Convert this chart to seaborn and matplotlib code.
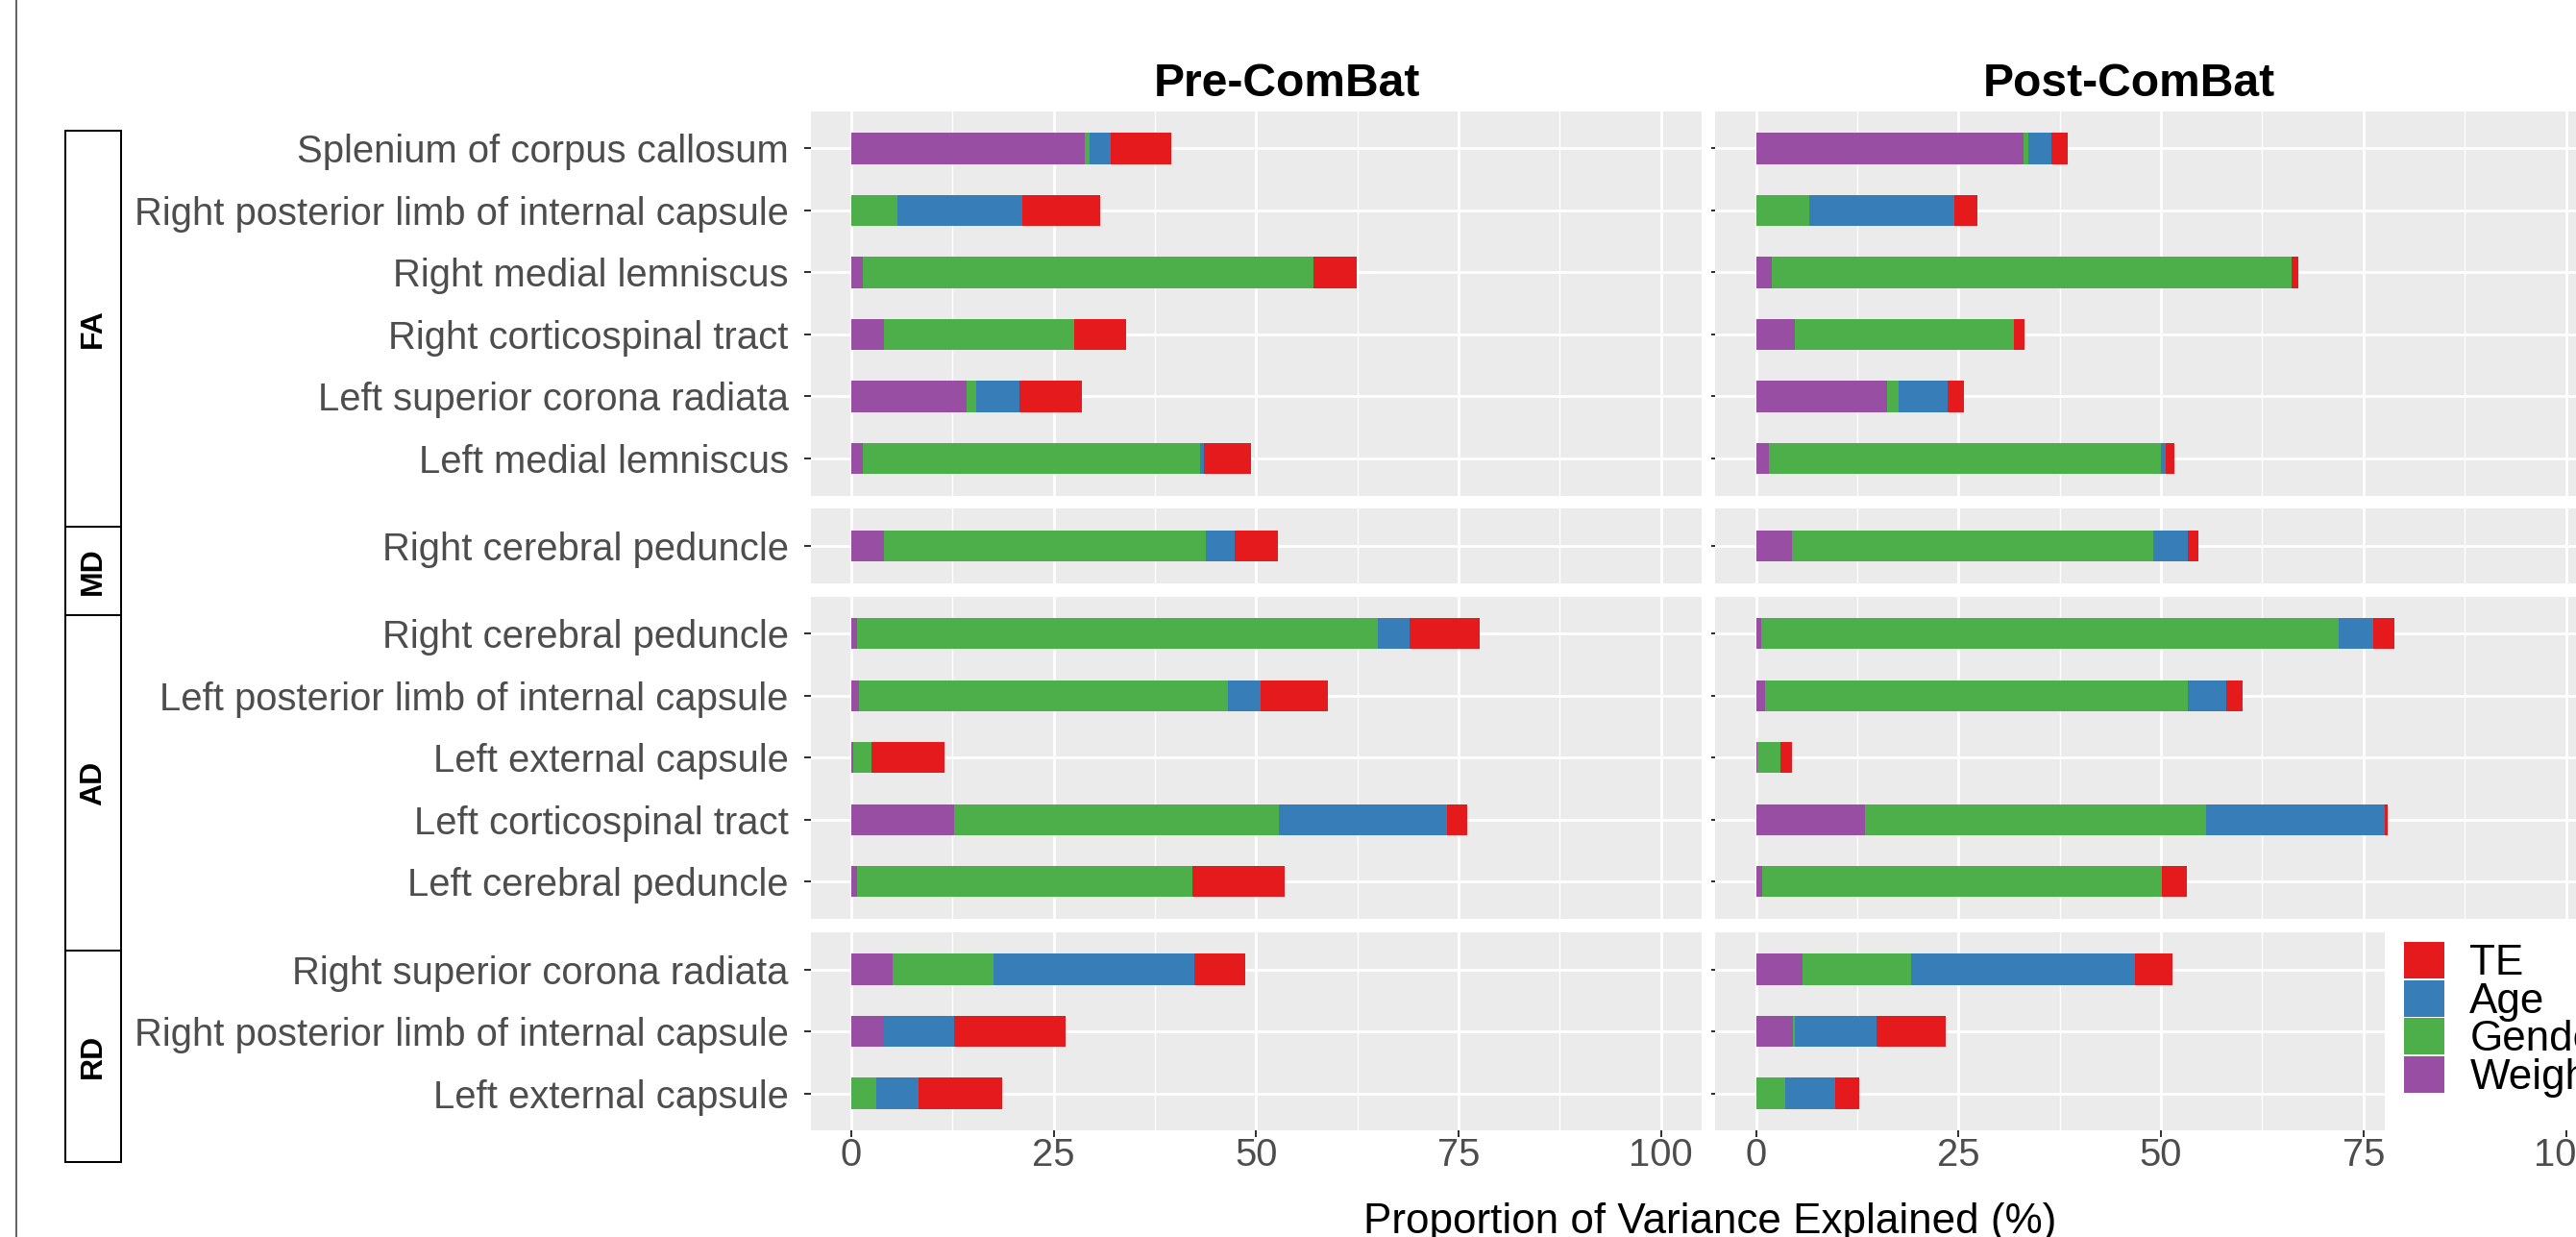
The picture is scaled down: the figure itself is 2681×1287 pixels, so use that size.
import matplotlib
matplotlib.use("Agg")
import pandas as pd
import seaborn as sns
import matplotlib.pyplot as plt
from matplotlib.patches import Patch, Rectangle
from matplotlib.lines import Line2D

# Regions of interest, grouped by diffusion measure (top to bottom)
fa_regions = ["Splenium of corpus callosum",
              "Right posterior limb of internal capsule",
              "Right medial lemniscus",
              "Right corticospinal tract",
              "Left superior corona radiata",
              "Left medial lemniscus"]
md_regions = ["Right cerebral peduncle"]
ad_regions = ["Right cerebral peduncle",
              "Left posterior limb of internal capsule",
              "Left external capsule",
              "Left corticospinal tract",
              "Left cerebral peduncle"]
rd_regions = ["Right superior corona radiata",
              "Right posterior limb of internal capsule",
              "Left external capsule"]

measures = ["FA", "MD", "AD", "RD"]
conditions = ["Pre-ComBat", "Post-ComBat"]
factors = ["Weight", "Gender", "Age", "TE"]          # stacking order, left to right
legend_order = ["TE", "Age", "Gender", "Weight"]
factor_colors = {"TE": "#E41A1C", "Age": "#377EB8",
                 "Gender": "#4DAF4A", "Weight": "#984EA3"}

# Proportion of variance explained (%), rows ordered FA, MD, AD, RD
pre_weight = [28.9, 0.0, 1.4, 4.1, 14.2, 1.4, 4.1, 0.7, 1.0, 0.3, 12.7, 0.7, 5.1, 4.0, 0.0]
pre_gender = [0.5, 5.7, 55.7, 23.4, 1.2, 41.7, 39.7, 64.3, 45.5, 2.2, 40.1, 41.4, 12.5, 0.0, 3.1]
pre_age    = [2.7, 15.4, 0.0, 0.0, 5.4, 0.5, 3.5, 3.9, 4.0, 0.0, 20.8, 0.0, 24.8, 8.7, 5.2]
pre_te     = [7.4, 9.7, 5.3, 6.4, 7.7, 5.8, 5.4, 8.7, 8.4, 9.0, 2.4, 11.4, 6.3, 13.8, 10.4]

post_weight = [33.0, 0.0, 2.0, 4.8, 16.2, 1.6, 4.5, 0.6, 1.1, 0.2, 13.4, 0.8, 5.8, 4.6, 0.0]
post_gender = [0.6, 6.6, 64.1, 27.0, 1.4, 48.4, 44.5, 71.3, 52.2, 2.8, 42.2, 49.3, 13.4, 0.2, 3.6]
post_age    = [2.9, 17.9, 0.0, 0.0, 6.1, 0.6, 4.3, 4.3, 4.8, 0.0, 22.0, 0.0, 27.6, 10.1, 6.2]
post_te     = [2.0, 2.8, 0.9, 1.3, 2.0, 1.1, 1.3, 2.6, 2.0, 1.5, 0.4, 3.1, 4.6, 8.5, 3.0]

region_groups = {"FA": fa_regions, "MD": md_regions, "AD": ad_regions, "RD": rd_regions}
all_regions = fa_regions + md_regions + ad_regions + rd_regions
measure_of_row = sum([[m] * len(region_groups[m]) for m in measures], [])

values = {
    "Pre-ComBat": {"Weight": pre_weight, "Gender": pre_gender, "Age": pre_age, "TE": pre_te},
    "Post-ComBat": {"Weight": post_weight, "Gender": post_gender, "Age": post_age, "TE": post_te},
}

records = []
for cond in conditions:
    for i, (m, r) in enumerate(zip(measure_of_row, all_regions)):
        for f in factors:
            records.append({"condition": cond, "measure": m, "region": r,
                            "factor": f, "value": values[cond][f][i]})
df = pd.DataFrame(records)
df["cum"] = df.groupby(["condition", "measure", "region"], sort=False)["value"].cumsum()

# ---- figure and panel geometry (pixels) ----
W, H = 2681, 1287
DPI = 100
PT = 72 / DPI  # points per pixel

plt.rcParams["font.family"] = ["Liberation Sans", "DejaVu Sans"]
fig = plt.figure(figsize=(W / DPI, H / DPI), dpi=DPI)
fig.patch.set_facecolor("white")

col_left = [843.7, 1785.4]
col_width = 927.3
unit = 64.5
gap = 13.8
top = 115.7
panel_tops, panel_heights = [], []
y = top
for m in measures:
    h = (len(region_groups[m]) - 1 + 1.2) * unit
    panel_tops.append(y)
    panel_heights.append(h)
    y += h + gap

tick_color = "#333333"
label_color = "#4D4D4D"

for ci, cond in enumerate(conditions):
    for ri, m in enumerate(measures):
        ax = fig.add_axes([col_left[ci] / W,
                           1 - (panel_tops[ri] + panel_heights[ri]) / H,
                           col_width / W, panel_heights[ri] / H])
        sub = df[(df["condition"] == cond) & (df["measure"] == m)]
        order = region_groups[m]
        # stacked bars: draw cumulative totals from the outermost segment inward
        for f in reversed(factors):
            layer = sub[sub["factor"] == f]
            sns.barplot(data=layer, x="cum", y="region", order=order, orient="h",
                        color=factor_colors[f], saturation=1, width=0.5,
                        errorbar=None, linewidth=0, ax=ax)
        n = len(order)
        ax.set_facecolor("#EBEBEB")
        ax.set_xlim(-5, 105)
        ax.set_ylim(n - 1 + 0.6, -0.6)
        ax.set_xticks([0, 25, 50, 75, 100])
        ax.set_xticks([12.5, 37.5, 62.5, 87.5], minor=True)
        ax.grid(which="major", color="white", linewidth=2.8 * PT)
        ax.grid(which="minor", axis="x", color="white", linewidth=1.4 * PT)
        ax.set_axisbelow(True)
        for s in ax.spines.values():
            s.set_visible(False)
        ax.set_xlabel("")
        ax.set_ylabel("")
        ax.tick_params(axis="x", which="minor", length=0)
        ax.tick_params(axis="y", which="major", length=7 * PT, width=2 * PT,
                       color=tick_color, pad=16 * PT, labelsize=40 * PT,
                       labelcolor=label_color)
        if ri < len(measures) - 1:
            ax.tick_params(axis="x", which="major", bottom=False, labelbottom=False)
        else:
            ax.tick_params(axis="x", which="major", length=7 * PT, width=2 * PT,
                           color=tick_color, pad=0, labelsize=40 * PT,
                           labelcolor=label_color)
            ax.set_xticklabels(["0", "25", "50", "75", "100"])
        if ci == 1:
            ax.tick_params(axis="y", length=4 * PT, labelleft=False)

# column titles
fig.text(1339 / W, 1 - 100 / H, "Pre-ComBat", ha="center", va="baseline",
         fontsize=48 * PT, fontweight="bold", color="black")
fig.text(2216 / W, 1 - 100 / H, "Post-ComBat", ha="center", va="baseline",
         fontsize=48 * PT, fontweight="bold", color="black")

# shared x-axis title
fig.text(1780 / W, 1 - 1283 / H, "Proportion of Variance Explained (%)",
         ha="center", va="baseline", fontsize=44 * PT, color="black")

# measure labels in boxes on the left
box_x0, box_x1 = 68.3, 126.0
box_edges = [135.5, 547.8, 640.3, 989.4, 1209.1]
for i, m in enumerate(measures):
    y0, y1 = box_edges[i], box_edges[i + 1]
    fig.add_artist(Rectangle((box_x0 / W, 1 - y1 / H), (box_x1 - box_x0) / W,
                             (y1 - y0) / H, transform=fig.transFigure,
                             facecolor="white", edgecolor="black", linewidth=2 * PT))
    fig.text((box_x0 + box_x1) / 2 / W, 1 - (y0 + y1) / 2 / H, m, rotation=90,
             ha="center", va="center", fontsize=32 * PT, fontweight="bold",
             color="black")

# thin frame line at the left edge
fig.add_artist(Line2D([17 / W, 17 / W], [0, 1], transform=fig.transFigure,
                      color="#666666", linewidth=2 * PT))

# legend with white background over the lower-right panel
rd_top = panel_tops[-1]
rd_bottom = panel_tops[-1] + panel_heights[-1]
fig.add_artist(Rectangle((2482 / W, 1 - rd_bottom / H), 0.2, (rd_bottom - rd_top) / H,
                         transform=fig.transFigure, facecolor="white",
                         edgecolor="none", zorder=3))
handles = [Patch(facecolor=factor_colors[f], edgecolor="none", label=f)
           for f in legend_order]
fs = 44
fig.legend(handles=handles, loc="upper left", bbox_to_anchor=(2502 / W, 1 - 980 / H),
           frameon=False, fontsize=fs * PT, handlelength=42 / fs, handleheight=42 / fs,
           handletextpad=0.6, labelspacing=-0.08, borderpad=0, borderaxespad=0)

fig.savefig("out.png", dpi=DPI)
